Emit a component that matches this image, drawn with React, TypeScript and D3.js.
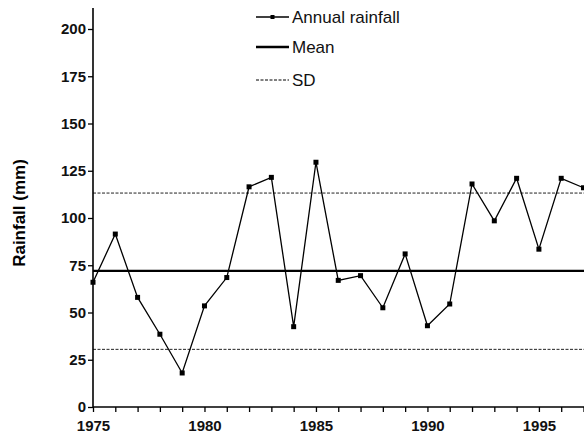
import { useEffect, useRef } from 'react';
import { select, scaleLinear, axisBottom, axisLeft, line, range } from 'd3';

// rainfall data
const years = range(1975, 1998);
const rainfall = [66, 91.5, 58, 38.5, 18, 53.5, 68.5, 116.5, 121.5, 42.5, 129.5, 67, 69.5, 52.5, 81, 43, 54.5, 118, 98.5, 121, 83.5, 121, 116];
const meanValue = 72;
const sdUpper = 113.2;
const sdLower = 30.5;
const yTicks = [0, 25, 50, 75, 100, 125, 150, 175, 200];
const xLabelYears = [1975, 1980, 1985, 1990, 1995];
const legendItems = ['Annual rainfall', 'Mean', 'SD'];

const W = 584;
const H = 434;
const font = 'Arial, "Liberation Sans", Helvetica, sans-serif';

function App() {
    const svgRef = useRef<SVGSVGElement>(null);

    useEffect(() => {
        const svg = select(svgRef.current);
        svg.selectAll('*').remove();

        const x = scaleLinear().domain([1975, 1997]).range([93, 583.5]);
        const y = scaleLinear().domain([0, 200]).range([407, 29]);
        const xEnd = 600;

        // mean and SD lines
        svg.append('line')
            .attr('x1', x(1975)).attr('x2', xEnd)
            .attr('y1', y(meanValue)).attr('y2', y(meanValue))
            .attr('stroke', '#000').attr('stroke-width', 2.4);
        [sdUpper, sdLower].forEach(v => {
            svg.append('line')
                .attr('x1', x(1975)).attr('x2', xEnd)
                .attr('y1', y(v)).attr('y2', y(v))
                .attr('stroke', '#222').attr('stroke-width', 1)
                .attr('stroke-dasharray', '3,1.5');
        });

        // x axis: minor ticks each year, labels every 5
        const xAxis = svg.append('g')
            .attr('transform', `translate(0, ${y(0)})`)
            .call(axisBottom(x).tickValues(years).tickSize(5).tickSizeOuter(0)
                .tickFormat(d => (xLabelYears.includes(+d) ? String(d) : '')));
        xAxis.select('.domain').attr('d', `M${x(1975)},0H${xEnd}`).attr('stroke-width', 1.6);
        xAxis.selectAll('.tick line').attr('stroke-width', 1.3);
        xAxis.selectAll('.tick text')
            .attr('y', 24).attr('dy', null)
            .attr('font-size', 15).attr('font-weight', 'bold').attr('font-family', font)
            .attr('fill', '#111');

        // y axis
        const yAxis = svg.append('g')
            .attr('transform', `translate(${x(1975)}, 0)`)
            .call(axisLeft(y).tickValues(yTicks).tickSize(5).tickSizeOuter(0));
        yAxis.select('.domain').attr('d', `M0,8V${y(0)}`).attr('stroke-width', 1.6);
        yAxis.selectAll('.tick line').attr('stroke-width', 1.3);
        yAxis.selectAll('.tick text')
            .attr('x', -7)
            .attr('font-size', 15).attr('font-weight', 'bold').attr('font-family', font)
            .attr('fill', '#111');

        // y title
        svg.append('text')
            .attr('transform', 'translate(25, 213) rotate(-90)')
            .attr('text-anchor', 'middle')
            .attr('font-size', 17).attr('font-weight', 'bold').attr('font-family', font)
            .text('Rainfall (mm)');

        // rainfall series
        const pts = years.map((yr, i) => [x(yr), y(rainfall[i])] as [number, number]);
        svg.append('path')
            .attr('d', line()(pts))
            .attr('fill', 'none').attr('stroke', '#000').attr('stroke-width', 1.3);
        svg.selectAll('rect.pt').data(pts).enter()
            .append('rect').attr('class', 'pt')
            .attr('x', d => d[0] - 2.5).attr('y', d => d[1] - 2.5)
            .attr('width', 5).attr('height', 5).attr('fill', '#000');

        // legend
        const ly = [17, 47, 80];
        const lx1 = 256, lx2 = 289;
        const lg = svg.append('g');
        legendItems.forEach((name, i) => {
            const l = lg.append('line')
                .attr('x1', lx1).attr('x2', lx2).attr('y1', ly[i]).attr('y2', ly[i])
                .attr('stroke', '#000');
            if (i === 0) {
                l.attr('stroke-width', 1.3);
                lg.append('rect').attr('x', (lx1 + lx2) / 2 - 2).attr('y', ly[i] - 2)
                    .attr('width', 4).attr('height', 4).attr('fill', '#000');
            } else if (i === 1) {
                l.attr('stroke-width', 2.4);
            } else {
                l.attr('stroke-width', 1).attr('stroke-dasharray', '3,1.5');
            }
            lg.append('text')
                .attr('x', lx2 + 3).attr('y', ly[i]).attr('dy', '0.35em')
                .attr('font-size', 17).attr('font-family', font).attr('fill', '#111')
                .text(name);
        });
    }, []);

    return (
        <svg ref={svgRef} width={W} height={H}
            style={{ position: 'absolute', left: 0, top: 0, background: '#fff' }} />
    );
}

export default App;
